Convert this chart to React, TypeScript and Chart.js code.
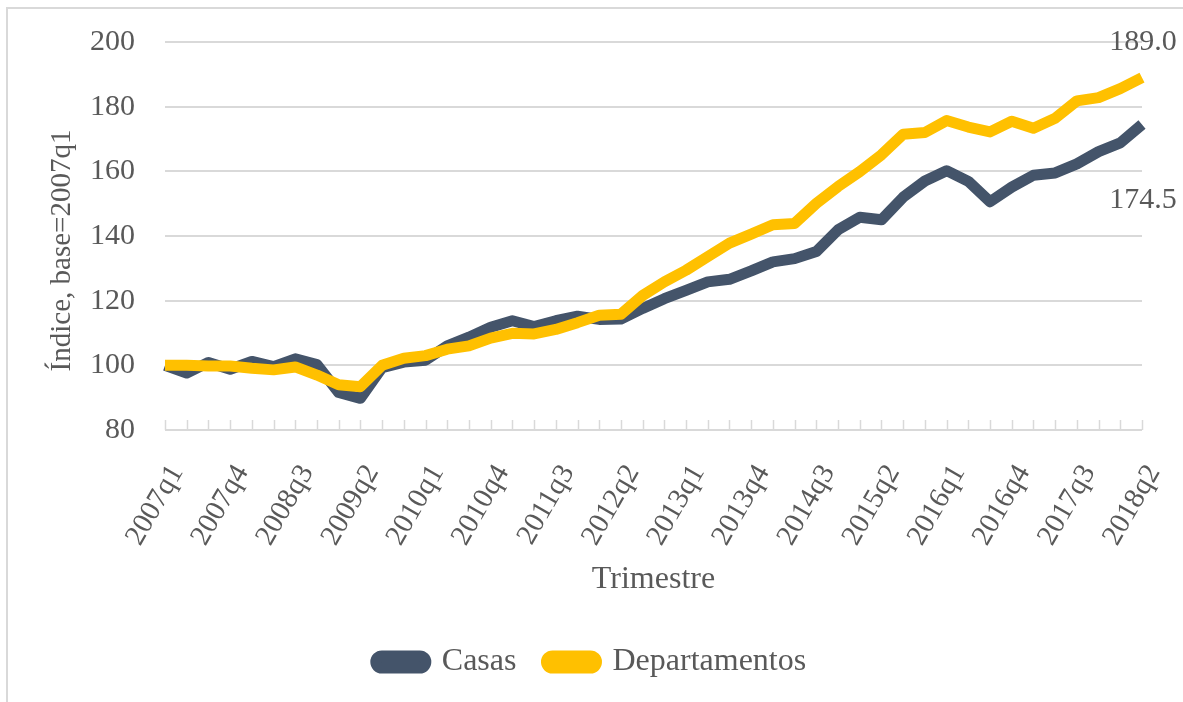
import React, { useEffect, useRef } from "react";
import { Chart, registerables } from "chart.js";

Chart.register(...registerables);

const quarters = [
  "2007q1", "2007q2", "2007q3", "2007q4",
  "2008q1", "2008q2", "2008q3", "2008q4",
  "2009q1", "2009q2", "2009q3", "2009q4",
  "2010q1", "2010q2", "2010q3", "2010q4",
  "2011q1", "2011q2", "2011q3", "2011q4",
  "2012q1", "2012q2", "2012q3", "2012q4",
  "2013q1", "2013q2", "2013q3", "2013q4",
  "2014q1", "2014q2", "2014q3", "2014q4",
  "2015q1", "2015q2", "2015q3", "2015q4",
  "2016q1", "2016q2", "2016q3", "2016q4",
  "2017q1", "2017q2", "2017q3", "2017q4",
  "2018q1", "2018q2",
];

const casas = [
  100.0, 97.6, 100.9, 98.8, 101.2, 99.6, 102.0, 100.2,
  91.6, 89.8, 99.3, 101.0, 101.6, 106.0, 108.7, 111.8,
  113.8, 112.0, 113.8, 115.2, 114.2, 114.3, 117.6, 120.6,
  123.2, 125.8, 126.6, 129.2, 132.0, 133.0, 135.2, 141.9,
  145.8, 145.0, 152.0, 157.0, 160.2, 156.9, 150.6, 155.1,
  158.8, 159.5, 162.3, 166.1, 168.8, 174.5,
];

const departamentos = [
  100.0, 100.0, 99.8, 99.8, 99.1, 98.6, 99.5, 97.0,
  94.0, 93.4, 100.0, 102.2, 103.0, 105.0, 106.0, 108.4,
  109.9, 109.7, 111.1, 113.2, 115.5, 115.8, 121.6, 125.8,
  129.4, 133.6, 137.8, 140.6, 143.5, 143.9, 150.1, 155.3,
  159.9, 165.1, 171.5, 172.0, 175.7, 173.7, 172.2, 175.5,
  173.3, 176.4, 181.8, 182.8, 185.6, 189.0,
];

const seriesNames = ["Casas", "Departamentos"];
const yMin = 80;
const yMax = 200;
const yStep = 20;
const xTitle = "Trimestre";
const yTitle = "Índice, base=2007q1";

const TEXT = "#595959";
const GRID = "#D9D9D9";
const DARK = "#44546A";
const YELLOW = "#FFC000";
const FONT = "'Liberation Serif', 'Times New Roman', serif";

const overlayPlugin = {
  id: "overlay",
  beforeDatasetsDraw(chart: any) {
    const { ctx, chartArea, scales } = chart;
    const x = scales.x;
    ctx.save();
    ctx.strokeStyle = GRID;
    ctx.lineWidth = 1.5;
    for (let i = 0; i < quarters.length; i++) {
      const px = Math.round(x.getPixelForValue(i)) + 0.5;
      ctx.beginPath();
      ctx.moveTo(px, chartArea.bottom);
      ctx.lineTo(px, chartArea.bottom - 10);
      ctx.stroke();
    }
    ctx.restore();
  },
  afterDatasetsDraw(chart: any) {
    const { ctx, scales } = chart;
    const x = scales.x;
    const y = scales.y;
    const offsets = [76, -35];
    ctx.save();
    ctx.fillStyle = TEXT;
    ctx.font = `30px ${FONT}`;
    ctx.textAlign = "center";
    ctx.textBaseline = "middle";
    chart.data.datasets.forEach((ds: any, di: number) => {
      const last = ds.data.length - 1;
      const v = ds.data[last];
      const px = x.getPixelForValue(last);
      const py = y.getPixelForValue(v) + offsets[di];
      ctx.fillText(v.toFixed(1), px + 1, py);
    });
    ctx.restore();
  },
};

export default function App() {
  const canvasRef = useRef<HTMLCanvasElement | null>(null);

  useEffect(() => {
    const canvas = canvasRef.current;
    if (!canvas) return;
    const chart = new Chart(canvas, {
      type: "line",
      data: {
        labels: quarters,
        datasets: [
          {
            label: seriesNames[0],
            data: casas,
            borderColor: DARK,
            backgroundColor: DARK,
            borderWidth: 11,
            pointRadius: 0,
            tension: 0,
            borderJoinStyle: "round",
            borderCapStyle: "butt",
            order: 1,
          },
          {
            label: seriesNames[1],
            data: departamentos,
            borderColor: YELLOW,
            backgroundColor: YELLOW,
            borderWidth: 11,
            pointRadius: 0,
            tension: 0,
            borderJoinStyle: "round",
            borderCapStyle: "butt",
            order: 0,
          },
        ],
      },
      options: {
        responsive: false,
        animation: false,
        devicePixelRatio: 1,
        layout: { padding: { left: 40, right: 41, top: 42, bottom: 14 } },
        plugins: {
          tooltip: { enabled: false },
          legend: {
            position: "bottom",
            labels: {
              sort: (a: any, b: any) => a.datasetIndex - b.datasetIndex,
              boxWidth: 50,
              boxHeight: 12,
              useBorderRadius: true,
              borderRadius: 6,
              padding: 30,
              color: TEXT,
              font: { family: FONT, size: 32 },
            },
          },
        },
        scales: {
          x: {
            type: "category",
            grid: {
              display: false,
              drawTicks: true,
              tickLength: 29,
              tickColor: "rgba(0,0,0,0)",
            },
            border: { display: false },
            ticks: {
              autoSkip: false,
              minRotation: 60,
              maxRotation: 60,
              padding: 0,
              labelOffset: 12,
              color: TEXT,
              font: { family: FONT, size: 29 },
              callback: (_v: any, i: number) => (i % 3 === 0 ? quarters[i] : ""),
            },
            title: {
              display: true,
              text: xTitle,
              color: TEXT,
              font: { family: FONT, size: 32 },
              padding: { top: 0, bottom: 17 },
            },
            afterFit: (scale: any) => {
              scale.height = 186;
            },
          },
          y: {
            min: yMin,
            max: yMax,
            grid: {
              color: GRID,
              lineWidth: 2,
              drawTicks: true,
              tickLength: 30,
              tickColor: "rgba(0,0,0,0)",
            },
            border: { display: false },
            ticks: {
              stepSize: yStep,
              padding: 0,
              color: TEXT,
              font: { family: FONT, size: 30 },
            },
            title: {
              display: true,
              text: yTitle + "    ",
              color: TEXT,
              font: { family: FONT, size: 29 },
              padding: { top: 5, bottom: 0 },
            },
            afterFit: (scale: any) => {
              scale.width = 125;
            },
          },
        },
      },
      plugins: [overlayPlugin],
    });
    return () => chart.destroy();
  }, []);

  return (
    <div style={{ position: "fixed", left: 0, top: 0, width: 1183, height: 702, background: "#fff", overflow: "hidden" }}>
      <div
        style={{
          position: "absolute",
          left: 6,
          top: 7,
          width: 1200,
          height: 720,
          borderLeft: `2px solid ${GRID}`,
          borderTop: `2px solid ${GRID}`,
        }}
      />
      <canvas
        ref={canvasRef}
        width={1183}
        height={702}
        style={{ position: "absolute", left: 0, top: 0, width: 1183, height: 702 }}
      />
    </div>
  );
}
